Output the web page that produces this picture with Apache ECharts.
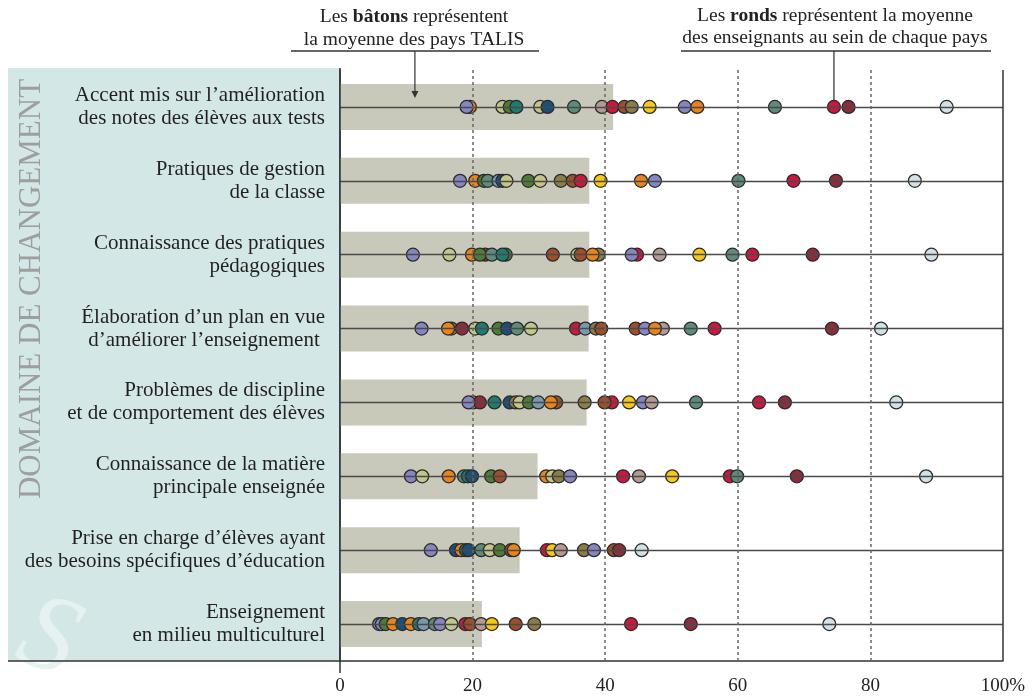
<!DOCTYPE html>
<html><head><meta charset="utf-8">
<script src="https://cdn.jsdelivr.net/npm/echarts@6/dist/echarts.min.js"></script>
<style>html,body{margin:0;padding:0;background:#fff}#c{width:1032px;height:696px}</style>
</head><body><div id="c"></div>
<script>
const categories = [
  'Accent mis sur l’amélioration\ndes notes des élèves aux tests',
  'Pratiques de gestion\nde la classe',
  'Connaissance des pratiques\npédagogiques',
  'Élaboration d’un plan en vue\nd’améliorer l’enseignement ',
  'Problèmes de discipline\net de comportement des élèves',
  'Connaissance de la matière\nprincipale enseignée',
  'Prise en charge d’élèves ayant\ndes besoins spécifiques d’éducation',
  'Enseignement\nen milieu multiculturel'
];
const xTicks = [0, 20, 40, 60, 80, 100];
const talisAverage = [41.2, 37.6, 37.6, 37.5, 37.2, 29.8, 27.1, 21.4];

const row1Values = [19.6, 19.1, 24.5, 25.6, 26.6, 30.2, 31.3, 35.3, 39.5, 41.1, 42.9, 44.0, 46.7, 52.0, 53.9, 65.6, 74.5, 76.7, 91.5];
const row1Groups = ['org','lav','kha','grn','tea','kha','nav','sag','ros','cri','bro','oli','yel','lav','org','sag','cri','mar','ice'];
const row2Values = [18.1, 20.4, 21.7, 22.3, 23.9, 24.5, 25.1, 28.4, 30.2, 33.3, 35.1, 36.3, 39.3, 45.4, 47.5, 60.1, 68.4, 74.8, 86.7];
const row2Groups = ['lav','org','grn','sag','ste','nav','kha','grn','kha','oli','bro','cri','yel','org','lav','sag','cri','mar','ice'];
const row3Values = [11.0, 16.5, 21.9, 19.9, 21.1, 22.9, 25.0, 24.5, 32.1, 35.8, 36.3, 39.0, 38.1, 44.8, 44.0, 48.2, 54.2, 59.2, 62.2, 71.3, 89.2];
const row3Groups = ['lav','kha','mar','org','grn','sag','grn','tea','bro','kha','bro','oli','org','cri','lav','ros','yel','sag','cri','mar','ice'];
const row4Values = [12.3, 16.8, 16.3, 18.4, 20.4, 21.4, 23.9, 25.2, 26.7, 28.8, 35.6, 37.0, 38.6, 39.4, 44.6, 46.0, 48.7, 47.5, 52.9, 56.5, 74.2, 81.6];
const row4Groups = ['lav','oli','org','mar','kha','tea','grn','nav','sag','kha','cri','ste','oli','bro','bro','lav','ros','org','sag','cri','mar','ice'];
const row5Values = [20.1, 21.1, 19.4, 23.3, 25.6, 26.5, 27.1, 28.5, 29.9, 32.6, 31.8, 36.9, 41.0, 39.9, 43.6, 45.7, 47.0, 53.7, 63.2, 67.1, 83.9];
const row5Groups = ['org','mar','lav','tea','nav','oli','kha','grn','ste','bro','org','oli','cri','bro','yel','lav','ros','sag','cri','mar','ice'];
const row6Values = [10.7, 12.4, 16.4, 18.7, 19.3, 19.9, 22.8, 24.1, 31.1, 32.0, 33.0, 34.7, 42.7, 45.1, 50.1, 58.8, 59.9, 68.9, 88.4];
const row6Groups = ['lav','kha','org','sag','tea','nav','grn','bro','org','kha','oli','lav','cri','ros','yel','cri','sag','mar','ice'];
const row7Values = [13.7, 17.5, 18.3, 19.0, 19.4, 21.3, 22.6, 24.1, 25.8, 26.2, 31.2, 32.0, 33.3, 36.8, 38.3, 41.3, 42.1, 45.5];
const row7Groups = ['lav','nav','org','tea','nav','sag','kha','grn','bro','org','cri','yel','ros','oli','lav','bro','mar','ice'];
const row8Values = [5.9, 6.3, 6.9, 8.0, 9.4, 10.7, 11.9, 12.6, 14.3, 15.1, 16.8, 18.9, 19.6, 21.3, 22.9, 26.5, 29.3, 43.9, 52.9, 73.8];
const row8Groups = ['lav','lav','grn','org','nav','org','tea','ste','sag','lav','kha','cri','bro','ros','yel','bro','oli','cri','mar','ice'];

const rowValues = [row1Values,row2Values,row3Values,row4Values,row5Values,row6Values,row7Values,row8Values];
const rowGroups = [row1Groups,row2Groups,row3Groups,row4Groups,row5Groups,row6Groups,row7Groups,row8Groups];

const palette = {
  lav:'#8686c2', org:'#e8841e', kha:'#c3c68b', grn:'#4e7b36', tea:'#1f7b70', nav:'#1c4f78',
  sag:'#5f8b7b', ros:'#b39b94', cri:'#c9193e', bro:'#9b4f2b', oli:'#8b7d48', yel:'#f7c819',
  mar:'#8b2e3b', ice:'#d1e3e9', ste:'#7b98b0'
};
const SERIF = '"Liberation Serif", "DejaVu Serif", serif';

const dots = [];
rowValues.forEach((vals, r) => vals.forEach((v, i) => {
  dots.push({ value: [v, r], itemStyle: { color: palette[rowGroups[r][i]] } });
}));

const chart = echarts.init(document.getElementById('c'), null, { renderer: 'canvas' });
chart.setOption({
  animation: false,
  backgroundColor: '#fff',
  grid: { left: 340, right: 29, top: 70, bottom: 35, containLabel: false },
  xAxis: {
    type: 'value', min: 0, max: 100, interval: 20,
    axisLine: { show: true, lineStyle: { color: '#333', width: 1.5 } },
    axisTick: { show: false },
    splitLine: { show: false },
    axisLabel: { fontFamily: SERIF, fontSize: 19, color: '#222', margin: 16,
      formatter: v => (v === 100 ? '100%' : String(v)) }
  },
  yAxis: {
    type: 'category', data: categories, inverse: true,
    axisLine: { show: true, lineStyle: { color: '#333', width: 1.5 } },
    axisTick: { show: false },
    axisLabel: { fontFamily: SERIF, fontSize: 21, lineHeight: 23, color: '#231f20', margin: 15, align: 'right' }
  },
  series: [
    { type: 'bar', data: talisAverage, barWidth: 46, itemStyle: { color: '#c8c8bb' }, z: 1, silent: true },
    { type: 'scatter', data: [], z: 2, silent: true,
      markLine: { silent: true, symbol: 'none', label: { show: false },
        data: categories.map(c => ({ yAxis: c, lineStyle: { color: '#4a4a4a', width: 1.3, type: 'solid' } }))
          .concat(xTicks.filter(t => t > 0 && t < 100).map(t => ({ xAxis: t, lineStyle: { color: '#666', width: 1.5, type: [3, 3] } })))
          .concat([{ xAxis: 100, lineStyle: { color: '#333', width: 1.5, type: 'solid' } }])
      } },
    { type: 'scatter', data: dots, symbolSize: 13, z: 3, silent: true,
      itemStyle: { borderColor: '#2a2a2a', borderWidth: 1.3, opacity: 1 } }
  ]
});

// annotation anchors (data space)
const batonAnchor = [11.3, 0];
const rondAnchor = [74.5, 0];
const pb = chart.convertToPixel({ gridIndex: 0 }, batonAnchor);
const pr = chart.convertToPixel({ gridIndex: 0 }, rondAnchor);
const p0 = chart.convertToPixel({ gridIndex: 0 }, [0, 0]);
const gridTop = 68, gridBottom = 661;
const NOTE = '19.5px ' + SERIF;

chart.setOption({
  graphic: [
    { type: 'rect', z: -1, silent: true, shape: { x: 8, y: gridTop, width: p0[0] - 8, height: gridBottom - gridTop }, style: { fill: '#d3e8e6' } },
    { type: 'text', z: -1, silent: true, x: 48, y: 640, rotation: -0.35,
      style: { text: 'S', font: 'italic 110px ' + SERIF, fill: '#e6f2f1', textAlign: 'center', textVerticalAlign: 'middle' } },
    { type: 'text', z: 0, silent: true, x: 32, y: 289, rotation: Math.PI / 2,
      style: { text: 'DOMAINE DE CHANGEMENT', font: '31px ' + SERIF, fill: '#9e9e9e', textAlign: 'center', textVerticalAlign: 'middle' } },
    { type: 'line', z: 5, silent: true, shape: { x1: 8, y1: gridBottom, x2: p0[0], y2: gridBottom }, style: { stroke: '#333', lineWidth: 1.5 } },
    { type: 'line', z: 5, silent: true, shape: { x1: p0[0], y1: gridTop, x2: p0[0], y2: gridBottom + 12 }, style: { stroke: '#333', lineWidth: 1.5 } },
    // bâtons annotation
    { type: 'text', z: 5, silent: true, x: 414, y: 17,
      style: { text: '{n|Les }{b|bâtons}{n| représentent}', textAlign: 'center', textVerticalAlign: 'middle',
        rich: { n: { font: NOTE, fill: '#222' }, b: { font: 'bold ' + NOTE, fill: '#222' } } } },
    { type: 'text', z: 5, silent: true, x: 414, y: 40,
      style: { text: 'la moyenne des pays TALIS', font: NOTE, fill: '#222', textAlign: 'center', textVerticalAlign: 'middle' } },
    { type: 'line', z: 5, silent: true, shape: { x1: 291, y1: 51, x2: 539, y2: 51 }, style: { stroke: '#333', lineWidth: 1.3 } },
    { type: 'line', z: 5, silent: true, shape: { x1: pb[0], y1: 51, x2: pb[0], y2: pb[1] - 12 }, style: { stroke: '#333', lineWidth: 1.2 } },
    { type: 'polygon', z: 5, silent: true, shape: { points: [[pb[0] - 3.5, pb[1] - 16], [pb[0] + 3.5, pb[1] - 16], [pb[0], pb[1] - 9]] }, style: { fill: '#333' } },
    // ronds annotation
    { type: 'text', z: 5, silent: true, x: 835, y: 16,
      style: { text: '{n|Les }{b|ronds}{n| représentent la moyenne}', textAlign: 'center', textVerticalAlign: 'middle',
        rich: { n: { font: NOTE, fill: '#222' }, b: { font: 'bold ' + NOTE, fill: '#222' } } } },
    { type: 'text', z: 5, silent: true, x: 835, y: 38,
      style: { text: 'des enseignants au sein de chaque pays', font: NOTE, fill: '#222', textAlign: 'center', textVerticalAlign: 'middle' } },
    { type: 'line', z: 5, silent: true, shape: { x1: 681, y1: 51, x2: 991, y2: 51 }, style: { stroke: '#333', lineWidth: 1.3 } },
    { type: 'line', z: 1, silent: true, shape: { x1: pr[0], y1: 51, x2: pr[0], y2: pr[1] - 5 }, style: { stroke: '#555', lineWidth: 1.5 } }
  ]
});
</script></body></html>
